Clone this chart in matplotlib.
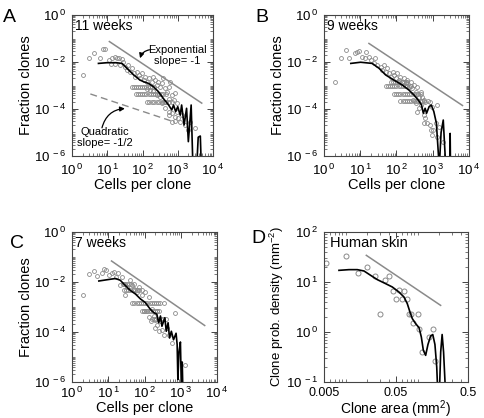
import numpy as np
import matplotlib
matplotlib.use('Agg')
import matplotlib.pyplot as plt
from matplotlib.ticker import LogLocator, FixedLocator, FuncFormatter, NullFormatter

plt.rcParams['font.family'] = ['Liberation Sans', 'DejaVu Sans']
plt.rcParams['mathtext.default'] = 'regular'
plt.rcParams['axes.unicode_minus'] = False

GRAY = '#8a8a8a'
FRAME = '#444444'

# ---- data (log10 values) ----

# A: 11 weeks
a_lx = [0.30, 0.49, 0.61, 0.87, 0.94, 0.80, 1.06, 1.13, 1.21, 1.27, 1.34, 1.42, 1.46, 1.11, 1.23,
        1.37, 1.51, 1.56, 1.60, 1.65, 1.70, 1.75, 1.79, 1.84, 1.89, 1.93, 1.98, 2.03, 2.08, 2.12,
        2.17, 2.26, 2.31, 2.36, 2.41, 2.45, 2.50, 2.55, 2.59, 2.64, 2.69, 2.74, 2.78, 2.83, 2.88,
        2.92, 2.97, 2.75, 2.64, 2.55, 2.50, 2.41, 2.31, 2.22, 2.12, 2.64, 2.74, 2.83, 2.92, 3.02,
        3.07, 2.83, 2.92, 2.74, 2.97, 3.11, 3.21, 3.30, 3.49, 3.35]
a_ly = [-2.55, -1.84, -1.63, -1.45, -1.45, -1.84, -1.91, -1.82, -1.79, -1.84, -1.82, -1.89, -1.99, -2.10, -2.07,
        -2.13, -2.20, -2.34, -2.13, -2.41, -2.27, -2.48, -2.62, -2.41, -2.55, -2.70, -2.48, -2.77, -2.62, -2.84,
        -2.70, -2.84, -2.62, -2.77, -2.98, -2.84, -3.05, -2.91, -2.70, -3.12, -3.26, -3.05, -2.84, -3.40, -3.62,
        -3.33, -3.76, -3.57, -3.72, -3.76, -3.48, -3.40, -3.23, -3.19, -3.15, -3.97, -4.11, -4.18, -4.33, -4.40,
        -4.54, -4.54, -4.51, -4.26, -4.11, -4.26, -4.68, -4.89, -4.82, -4.54]
a_rows = [(-3.05, [1.70, 1.76, 1.81, 1.87, 1.92, 1.98, 2.04, 2.09, 2.15, 2.21, 2.26, 2.32]),
          (-3.36, [1.81, 1.87, 1.93, 1.99, 2.05, 2.11, 2.17, 2.23, 2.29, 2.35, 2.41, 2.47, 2.53, 2.59, 2.66]),
          (-3.69, [2.12, 2.19, 2.26, 2.33, 2.40, 2.47, 2.54, 2.61, 2.68, 2.75, 2.83])]
a_fit_lx = [0.75, 0.99, 1.25, 1.42, 1.56, 1.75, 1.93, 2.05, 2.17, 2.31, 2.45, 2.59, 2.74, 2.83, 2.88,
            2.94, 3.00, 3.07, 3.11, 3.18, 3.25, 3.30, 3.38, 3.44, 3.52, 3.58, 3.64, 3.68]
a_fit_ly = [-2.06, -2.03, -2.03, -2.06, -2.27, -2.55, -2.77, -2.85, -2.91, -3.05, -3.26, -3.55, -3.83, -4.04, -3.83,
            -4.11, -3.90, -4.26, -3.83, -4.68, -3.97, -5.39, -3.83, -7.0, -7.0, -5.2, -5.15, -7.0]
a_exp_lx = [1.06, 3.68]
a_exp_ly = [-1.13, -3.75]
a_quad_lx = [0.52, 2.88]
a_quad_ly = [-3.36, -4.54]

# B: 9 weeks
b_lx = [0.29, 0.48, 0.60, 0.69, 0.85, 0.92, 0.97, 1.17, 1.06, 1.12, 1.24, 1.29, 1.40, 1.38, 1.47,
        1.56, 1.61, 1.66, 1.70, 1.75, 1.79, 1.84, 1.89, 1.93, 1.98, 2.02, 2.07, 2.11, 2.16, 2.21,
        2.25, 2.30, 2.34, 2.39, 2.44, 2.48, 2.53, 2.57, 2.62, 2.67, 2.71, 2.76, 2.80, 2.87, 2.92,
        2.99, 3.11, 2.76, 2.80, 2.85, 2.76, 2.92, 2.94, 3.02, 3.08, 3.17, 2.99, 3.13, 3.29, 2.46,
        2.53, 2.62, 2.67, 2.57]
b_ly = [-2.84, -1.84, -1.49, -1.82, -1.63, -1.59, -1.53, -1.59, -1.77, -1.84, -1.77, -1.91, -1.84, -2.06, -2.13,
        -2.20, -2.34, -2.13, -2.41, -2.27, -2.48, -2.62, -2.41, -2.55, -2.70, -2.48, -2.77, -2.62, -2.84, -2.70,
        -2.91, -2.77, -3.05, -2.84, -3.12, -2.98, -3.26, -3.05, -3.48, -3.26, -3.48, -3.62, -3.69, -3.66, -3.72,
        -3.90, -3.83, -4.26, -4.40, -4.61, -4.61, -4.68, -4.89, -4.89, -4.61, -4.75, -5.11, -5.18, -5.39, -3.62,
        -3.76, -3.97, -3.83, -4.11]
b_rows = [(-2.84, [1.84, 1.90, 1.96, 2.02, 2.08, 2.14, 2.20, 2.26, 2.30]),
          (-3.01, [1.70, 1.76, 1.82, 1.88, 1.94, 2.00, 2.06, 2.12, 2.18, 2.24, 2.30, 2.36, 2.39]),
          (-3.36, [1.93, 1.99, 2.05, 2.11, 2.17, 2.23, 2.29, 2.35, 2.41, 2.47, 2.53, 2.59, 2.67]),
          (-3.66, [2.11, 2.17, 2.23, 2.29, 2.35, 2.41, 2.47, 2.53, 2.59, 2.65, 2.71, 2.76])]
b_fit_lx = [0.74, 1.01, 1.33, 1.52, 1.70, 1.93, 2.16, 2.34, 2.48, 2.62, 2.69, 2.74, 2.79, 2.83, 2.90,
            2.96, 3.03, 3.10, 3.18, 3.23, 3.29, 3.36, 3.47, 3.48, 3.49]
b_fit_ly = [-2.06, -2.01, -2.06, -2.27, -2.55, -2.77, -2.98, -3.19, -3.40, -3.66, -3.83, -4.18, -3.97, -4.18, -3.90,
            -3.83, -4.11, -4.60, -6.50, -5.00, -4.47, -6.50, -6.50, -5.04, -6.50]
b_exp_lx = [1.24, 3.82]
b_exp_ly = [-1.21, -3.85]

# C: 7 weeks
c_lx = [0.29, 0.48, 0.60, 0.69, 0.83, 0.89, 0.94, 1.01, 1.09, 1.15, 1.20, 1.27, 1.38, 1.33, 1.43,
        1.52, 1.61, 1.66, 1.70, 1.79, 1.84, 1.93, 1.47, 2.02, 2.11, 1.98, 2.07, 2.21, 2.25, 2.30,
        2.19, 2.34, 2.44, 2.48, 2.53, 2.62, 2.67, 2.85, 2.76, 3.11, 2.11, 2.34, 2.28, 2.41]
c_ly = [-2.54, -1.69, -1.56, -1.77, -1.63, -1.50, -1.52, -1.73, -1.66, -1.62, -1.80, -1.66, -1.80, -2.14, -2.07,
        -2.20, -1.93, -2.14, -2.27, -2.41, -2.20, -2.54, -2.54, -2.41, -2.61, -3.16, -3.16, -3.09, -3.36, -3.50,
        -3.56, -3.70, -3.56, -3.90, -4.11, -3.84, -4.11, -3.22, -4.45, -5.33, -3.40, -3.16, -3.84, -3.97]
c_rows = [(-2.10, [1.40, 1.46, 1.52, 1.58, 1.64, 1.72]),
          (-2.34, [1.43, 1.49, 1.55, 1.61, 1.67, 1.73, 1.79, 1.85, 1.92]),
          (-2.84, [1.66, 1.72, 1.78, 1.84, 1.90, 1.96, 2.02, 2.08, 2.14, 2.20, 2.26, 2.32, 2.38, 2.44, 2.53]),
          (-3.16, [1.93, 1.99, 2.05, 2.11, 2.17, 2.23, 2.29, 2.35, 2.39]),
          (-3.46, [2.21, 2.27, 2.33, 2.39, 2.45, 2.52, 2.58])]
c_fit_lx = [0.74, 1.01, 1.20, 1.33, 1.47, 1.61, 1.75, 1.89, 2.02, 2.16, 2.25, 2.34, 2.39, 2.44, 2.48,
            2.56, 2.60, 2.65, 2.69, 2.74, 2.80, 2.87, 2.90, 2.92, 2.95, 2.99, 3.02, 3.04, 3.06]
c_fit_ly = [-1.96, -1.90, -1.86, -1.93, -2.14, -2.34, -2.48, -2.68, -2.82, -3.09, -3.22, -3.29, -3.63, -3.36, -3.77,
            -3.43, -3.97, -3.63, -4.24, -3.97, -4.31, -4.05, -4.50, -5.90, -4.80, -4.40, -6.50, -5.20, -6.50]
c_exp_lx = [1.09, 3.66]
c_exp_ly = [-1.16, -3.74]

# D: human skin (clone area in mm^2, density in mm^-2)
d_lx = [-2.278, -2.000, -1.829, -1.708, -1.597, -1.523, -1.458, -1.398, -1.343, -1.301, -1.255, -1.218,
        -1.185, -1.153, -1.125, -1.088, -1.070, -0.995, -0.977, -0.935, -0.838, -0.792, -0.759]
d_ly = [1.387, 1.520, 1.187, 1.300, 1.113, 0.353, 1.047, 1.120, 0.820, 0.653, 0.833, 0.653,
        0.827, 0.653, 0.353, 0.353, 0.187, 0.353, 0.060, -0.400, -0.100, 0.060, -0.580]
d_fit_lx = [-2.093, -1.954, -1.838, -1.745, -1.653, -1.560, -1.445, -1.352, -1.260, -1.190, -1.144, -1.107,
            -1.074, -1.028, -0.981, -0.949, -0.921, -0.889, -0.857, -0.820, -0.790, -0.760, -0.735, -0.718,
            -0.700, -0.680, -0.660, -0.640, -0.610]
d_fit_ly = [1.233, 1.247, 1.247, 1.220, 1.133, 1.047, 0.967, 0.900, 0.800, 0.700, 0.567, 0.400,
            0.267, 0.167, 0.087, -0.100, -0.367, -0.467, -0.250, -0.080, -0.050, -0.250, -0.700, -1.300,
            -1.300, -0.400, -0.050, -0.400, -1.300]
d_exp_lx = [-1.713, -0.681]
d_exp_ly = [1.533, 0.533]


def sci(v, pos):
    e = int(round(np.log10(v)))
    return '$10^{\\,%d}$' % e


def style_axis(ax, xpad=5):
    for s in ax.spines.values():
        s.set_color(FRAME)
        s.set_linewidth(0.8)
    ax.tick_params(which='both', direction='in', top=True, right=True, color=FRAME, labelsize=9.5)
    ax.tick_params(which='major', length=4, width=0.7, pad=4)
    ax.tick_params(axis='x', which='major', pad=xpad)
    ax.tick_params(which='minor', length=2, width=0.5)


def clone_panel(ax, lx, ly, rows, fit_lx, fit_ly, exp_lx, exp_ly, label, xpad=5):
    xs = list(lx)
    ys = list(ly)
    for yv, row in rows:
        xs += row
        ys += [yv] * len(row)
    ax.plot(10 ** np.array(xs), 10 ** np.array(ys), 'o', mfc='none', mec=GRAY, ms=2.8, mew=0.6)
    ax.plot(10 ** np.array(fit_lx), 10 ** np.array(fit_ly), color='black', lw=1.2)
    ax.plot(10 ** np.array(exp_lx), 10 ** np.array(exp_ly), color=GRAY, lw=1.1)
    ax.set_xscale('log')
    ax.set_yscale('log')
    ax.set_xlim(1, 1e4)
    ax.set_ylim(1e-6, 1)
    ax.xaxis.set_major_locator(FixedLocator([1, 10, 100, 1e3, 1e4]))
    ax.xaxis.set_minor_locator(LogLocator(base=10, subs=np.arange(2, 10), numticks=20))
    ax.yaxis.set_major_locator(FixedLocator([1e-6, 1e-4, 1e-2, 1]))
    ax.yaxis.set_minor_locator(LogLocator(base=10, subs=np.arange(1, 10), numticks=20))
    ax.xaxis.set_major_formatter(FuncFormatter(sci))
    ax.yaxis.set_major_formatter(FuncFormatter(sci))
    ax.xaxis.set_minor_formatter(NullFormatter())
    ax.yaxis.set_minor_formatter(NullFormatter())
    ax.set_xlabel('Cells per clone', fontsize=10.5, labelpad=0)
    ax.set_ylabel('Fraction clones', fontsize=10.5, labelpad=1)
    ax.text(0.02, 0.975, label, transform=ax.transAxes, ha='left', va='top', fontsize=10)
    style_axis(ax, xpad)


fig = plt.figure(figsize=(4.84, 4.18), dpi=100)
axA = fig.add_axes([0.1488, 0.6268, 0.2913, 0.3373])
axB = fig.add_axes([0.6694, 0.6268, 0.2996, 0.3373])
axC = fig.add_axes([0.1488, 0.0861, 0.2996, 0.3589])
axD = fig.add_axes([0.6694, 0.0861, 0.2975, 0.3589])

clone_panel(axA, a_lx, a_ly, a_rows, a_fit_lx, a_fit_ly, a_exp_lx, a_exp_ly, '11 weeks')
axA.plot(10 ** np.array(a_quad_lx), 10 ** np.array(a_quad_ly), color=GRAY, lw=1.0, dashes=(5, 3))
axA.text(10 ** 2.98, 10 ** -1.72, 'Exponential\nslope= -1', ha='center', va='center', fontsize=8,
         linespacing=1.15)
axA.annotate('', xy=(10 ** 1.93, 10 ** -1.84), xytext=(10 ** 2.2, 10 ** -1.48),
             arrowprops=dict(arrowstyle='-|>', color='black', lw=0.9, mutation_scale=7,
                             shrinkA=0, shrinkB=0, connectionstyle='arc3,rad=0.3'))
axA.text(10 ** 0.92, 10 ** -5.22, 'Quadratic\nslope= -1/2', ha='center', va='center', fontsize=8,
         linespacing=1.15)
axA.annotate('', xy=(10 ** 1.50, 10 ** -3.98), xytext=(10 ** 0.85, 10 ** -4.80),
             arrowprops=dict(arrowstyle='-|>', color='black', lw=0.9, mutation_scale=7,
                             shrinkA=0, shrinkB=0, connectionstyle='arc3,rad=-0.35'))

clone_panel(axB, b_lx, b_ly, b_rows, b_fit_lx, b_fit_ly, b_exp_lx, b_exp_ly, '9 weeks')
clone_panel(axC, c_lx, c_ly, c_rows, c_fit_lx, c_fit_ly, c_exp_lx, c_exp_ly, '7 weeks', xpad=3)

# D
axD.plot(10 ** np.array(d_lx), 10 ** np.array(d_ly), 'o', mfc='none', mec=GRAY, ms=3.6, mew=0.7)
axD.plot(10 ** np.array(d_fit_lx), 10 ** np.array(d_fit_ly), color='black', lw=1.2)
axD.plot(10 ** np.array(d_exp_lx), 10 ** np.array(d_exp_ly), color=GRAY, lw=1.1)
axD.set_xscale('log')
axD.set_yscale('log')
axD.set_xlim(0.005, 0.5)
axD.set_ylim(0.1, 100)
axD.xaxis.set_major_locator(FixedLocator([0.005, 0.05, 0.5]))
axD.xaxis.set_minor_locator(LogLocator(base=10, subs=np.arange(1, 10), numticks=20))
axD.yaxis.set_major_locator(FixedLocator([0.1, 1, 10, 100]))
axD.yaxis.set_minor_locator(LogLocator(base=10, subs=np.arange(2, 10), numticks=20))
axD.xaxis.set_major_formatter(FuncFormatter(lambda v, p: ('%g' % v)))
axD.yaxis.set_major_formatter(FuncFormatter(sci))
axD.xaxis.set_minor_formatter(NullFormatter())
axD.yaxis.set_minor_formatter(NullFormatter())
axD.set_xlabel('Clone area (mm$^2$)', fontsize=10)
axD.xaxis.set_label_coords(0.5, -0.11)
axD.set_ylabel('Clone prob. density (mm$^{-2}$)', fontsize=9.5, labelpad=0)
axD.text(0.04, 0.97, 'Human skin', transform=axD.transAxes, ha='left', va='top', fontsize=10.5)
style_axis(axD, xpad=3.5)
axD.tick_params(axis='x', labelsize=9)

for lab, x, y in [('A', 0.006, 0.978), ('B', 0.527, 0.978), ('C', 0.021, 0.437), ('D', 0.52, 0.45)]:
    fig.text(x, y, lab, fontsize=14, ha='left', va='top')

fig.savefig('out.png', dpi=100)
